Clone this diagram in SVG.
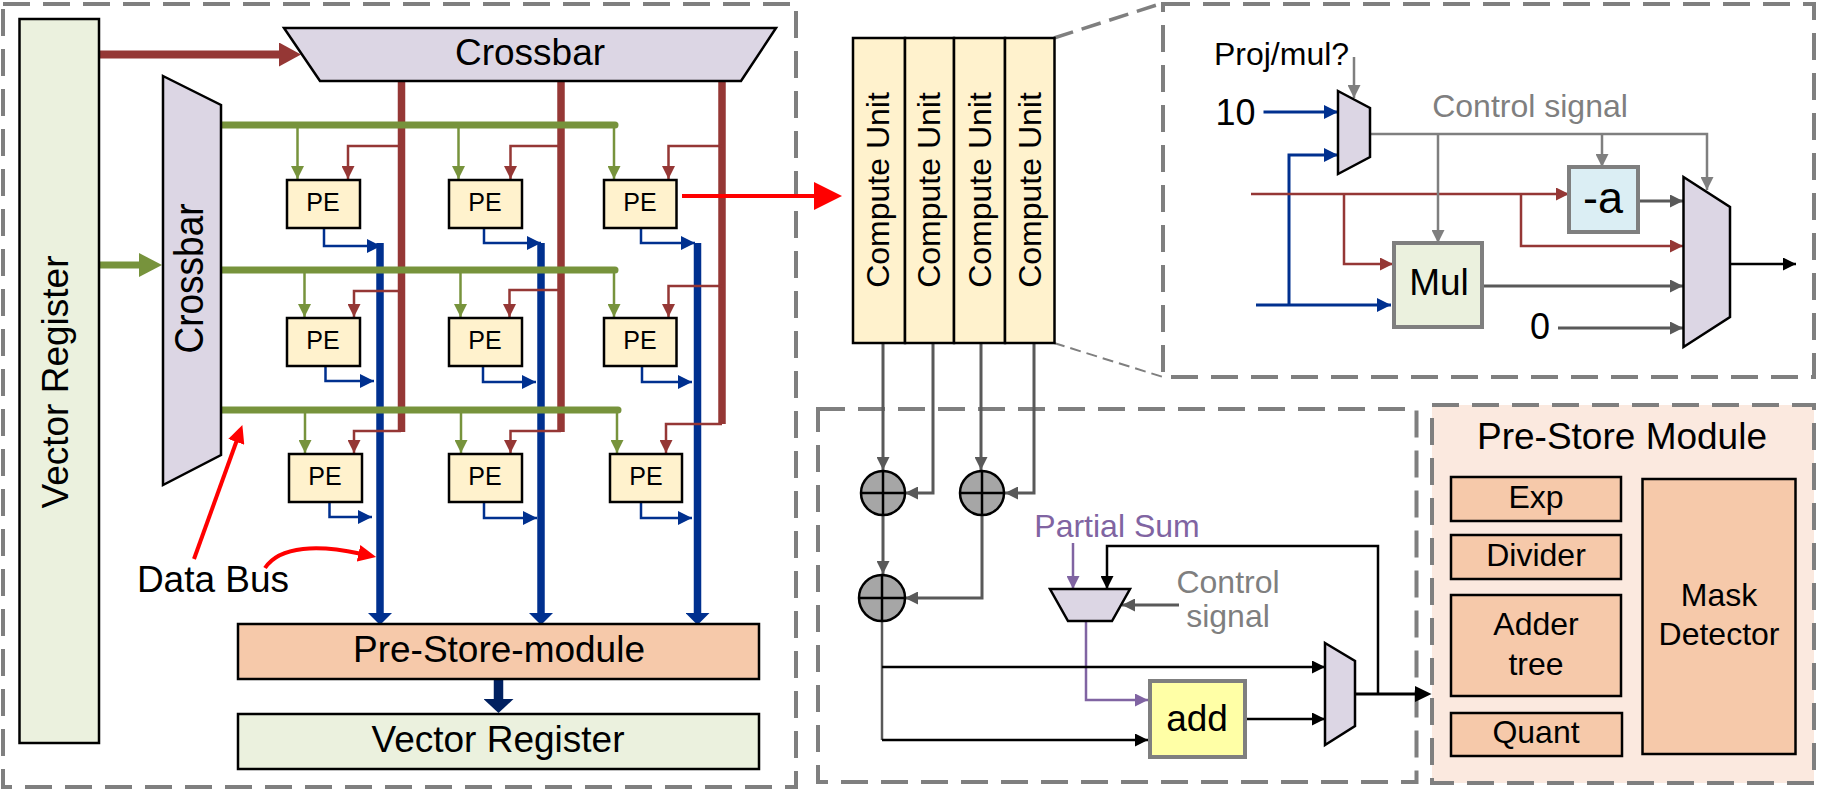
<svg xmlns="http://www.w3.org/2000/svg" width="1821" height="794" viewBox="0 0 1821 794">
<style>
text{font-family:"Liberation Sans",Arial,sans-serif;fill:#000;text-anchor:middle}
.s37{font-size:37px}.s32{font-size:32px}.s25{font-size:25px}
.gt{fill:#7f7f7f}.pt{fill:#8064a2}
.panel{fill:none;stroke:#7f7f7f;stroke-width:4;stroke-dasharray:27 13}
.n{stroke:#000;stroke-width:2.5}
.nb{stroke:#7f7f7f;stroke-width:4}
.mux{fill:#dcd6e4;stroke:#000;stroke-width:2.5;stroke-linejoin:miter}
.pe{fill:#fff2cd}.gr{fill:#ebf1de}.or{fill:#f6c9aa}
.l{fill:none;stroke-linejoin:miter}
.ga{stroke:#77933c;stroke-width:2.5;marker-end:url(#mg)}
.ba{stroke:#953735;stroke-width:2.5;marker-end:url(#mb)}
.bl{stroke:#00308f;stroke-width:2.5;marker-end:url(#mbl)}
.bl3{stroke:#00308f;stroke-width:3;marker-end:url(#mbl)}
.gy{stroke:#7f7f7f;stroke-width:2.5;marker-end:url(#mgy)}
.dk{stroke:#595959;stroke-width:3;marker-end:url(#mdk)}
.ka{stroke:#000;stroke-width:2.5;marker-end:url(#mk)}
.pu{stroke:#8064a2;stroke-width:2.5;marker-end:url(#mpu)}
.bus-g{stroke:#77933c;stroke-width:7;stroke-linecap:round}
.bus-b{stroke:#953735;stroke-width:7.5}
.bus-bl{stroke:#00308f;stroke-width:7.5;marker-end:url(#mbus)}
.re{stroke:#f00;stroke-width:4}
</style>
<defs>
<marker id="mg" markerUnits="userSpaceOnUse" markerWidth="13" markerHeight="13" refX="13" refY="6.5" orient="auto"><path d="M0 0L13 6.5L0 13z" fill="#77933c"/></marker>
<marker id="mb" markerUnits="userSpaceOnUse" markerWidth="13" markerHeight="13" refX="13" refY="6.5" orient="auto"><path d="M0 0L13 6.5L0 13z" fill="#953735"/></marker>
<marker id="mbl" markerUnits="userSpaceOnUse" markerWidth="14" markerHeight="14" refX="14" refY="7" orient="auto"><path d="M0 0L14 7L0 14z" fill="#00308f"/></marker>
<marker id="mgy" markerUnits="userSpaceOnUse" markerWidth="13" markerHeight="13" refX="13" refY="6.5" orient="auto"><path d="M0 0L13 6.5L0 13z" fill="#7f7f7f"/></marker>
<marker id="mdk" markerUnits="userSpaceOnUse" markerWidth="13" markerHeight="13" refX="13" refY="6.5" orient="auto"><path d="M0 0L13 6.5L0 13z" fill="#595959"/></marker>
<marker id="mk" markerUnits="userSpaceOnUse" markerWidth="13" markerHeight="13" refX="13" refY="6.5" orient="auto"><path d="M0 0L13 6.5L0 13z" fill="#000"/></marker>
<marker id="mpu" markerUnits="userSpaceOnUse" markerWidth="13" markerHeight="13" refX="13" refY="6.5" orient="auto"><path d="M0 0L13 6.5L0 13z" fill="#8064a2"/></marker>
<marker id="mbus" markerUnits="userSpaceOnUse" markerWidth="12" markerHeight="24" refX="1" refY="12" orient="auto"><path d="M0 0L12 12L0 24z" fill="#00308f"/></marker>
<marker id="mbig" markerUnits="userSpaceOnUse" markerWidth="22" markerHeight="24" refX="1" refY="12" orient="auto"><path d="M0 0L22 12L0 24z" fill="#953735"/></marker>
<marker id="mgrn" markerUnits="userSpaceOnUse" markerWidth="23" markerHeight="24" refX="1" refY="12" orient="auto"><path d="M0 0L23 12L0 24z" fill="#77933c"/></marker>
<marker id="mnavy" markerUnits="userSpaceOnUse" markerWidth="14" markerHeight="30" refX="1" refY="15" orient="auto"><path d="M0 0L14 15L0 30z" fill="#002060"/></marker>
<marker id="mred" markerUnits="userSpaceOnUse" markerWidth="28" markerHeight="28" refX="1" refY="14" orient="auto"><path d="M0 0L28 14L0 28z" fill="#f00"/></marker>
<marker id="mred2" markerUnits="userSpaceOnUse" markerWidth="18" markerHeight="17" refX="1" refY="8.5" orient="auto"><path d="M0 0L18 8.5L0 17z" fill="#f00"/></marker>
</defs>
<rect width="1821" height="794" fill="#fff"/>

<g id="panel-left"><rect class="panel" x="3" y="4" width="793" height="783"/></g>
<g id="panel-detail"><rect class="panel" x="1163" y="4" width="651" height="373"/></g>
<g id="panel-sum"><rect class="panel" x="818" y="409" width="598.500" height="373"/></g>
<g id="zoom-lines" fill="none" stroke="#7f7f7f">
<path d="M1054 38L1163 3" stroke-width="3.500" stroke-dasharray="20 9"/>
<path d="M1054 343L1163 377" stroke-width="2" stroke-dasharray="11 6"/>
</g>

<g id="connectors">
<g class="l" fill="none">
<path class="bus-bl" d="M380 243V614"/>
<path class="bus-bl" d="M541 243V614"/>
<path class="bus-bl" d="M697.500 243V614"/>
<path class="bl" d="M324 228V246H381"/>
<path class="bl" d="M484 228V243H541"/>
<path class="bl" d="M641 228V243H695"/>
<path class="bl" d="M325.500 366V381H374"/>
<path class="bl" d="M483 366V382H536"/>
<path class="bl" d="M642 366V382H692"/>
<path class="bl" d="M329.500 502V517H372"/>
<path class="bl" d="M484 502V518H537"/>
<path class="bl" d="M641 502V518H692"/>
<path class="bus-b" d="M401.500 81V432"/>
<path class="bus-b" d="M561 81V432"/>
<path class="bus-b" d="M722 81V424"/>
<path class="ba" d="M401 146H348V179"/>
<path class="ba" d="M561 146H510.500V179"/>
<path class="ba" d="M722 146H668.500V179"/>
<path class="ba" d="M401 291H354V317"/>
<path class="ba" d="M561 290H509.500V317"/>
<path class="ba" d="M722 286H668.500V317"/>
<path class="ba" d="M401 431H354V453"/>
<path class="ba" d="M561 431H510.500V453"/>
<path class="ba" d="M722 424H666V453"/>
<path class="ga" d="M297.500 125V179"/>
<path class="ga" d="M458.500 125V179"/>
<path class="ga" d="M614 125V179"/>
<path class="ga" d="M304.500 270V317"/>
<path class="ga" d="M460.500 270V317"/>
<path class="ga" d="M614 270V317"/>
<path class="ga" d="M305 410V453"/>
<path class="ga" d="M461 410V453"/>
<path class="ga" d="M617 410V453"/>
<path class="bus-g" d="M221 125H615"/>
<path class="bus-g" d="M221 270H615"/>
<path class="bus-g" d="M221 410H618"/>
<path stroke="#953735" stroke-width="8" marker-end="url(#mbig)" d="M99 54.500H280"/>
<path stroke="#77933c" stroke-width="7" marker-end="url(#mgrn)" d="M99 265H140"/>
<path stroke="#002060" stroke-width="9.500" marker-end="url(#mnavy)" d="M498.500 679V700"/>
<path class="re" marker-end="url(#mred)" d="M682 196H815"/>
<path class="re" marker-end="url(#mred2)" d="M194 559L236.600 441"/>
<path class="re" marker-end="url(#mred2)" d="M265 568C280 545 320 545 359.500 553.500"/>

<path class="gy" d="M1354 57V98"/>
<path class="bl3" d="M1263.500 112H1338"/>
<path class="bl3" d="M1256 305H1391"/>
<path class="bl3" d="M1289 305V155H1338"/>
<path class="ba" d="M1251 194H1569"/>
<path class="ba" d="M1344 194V264H1393"/>
<path class="ba" d="M1521 194V246H1683"/>
<path class="gy" d="M1370 134H1707V190"/>
<path class="gy" d="M1438 134V243"/>
<path class="gy" d="M1602 134V167"/>
<path class="dk" d="M1638 201H1683"/>
<path class="dk" d="M1482 286H1683"/>
<path class="dk" d="M1558 328H1683"/>
<path class="ka" d="M1730 264H1796"/>

<path class="dk" d="M883 343V470"/>
<path class="dk" d="M933 343V493H905"/>
<path class="dk" d="M981 343V470"/>
<path class="dk" d="M1034 343V493H1005"/>
<path class="dk" d="M883 515V574"/>
<path class="dk" d="M982 515V598H905"/>
<path class="pu" d="M1073 543V589"/>
<path class="ka" d="M1378 693V546H1107V589"/>
<path class="dk" d="M1179 605H1122"/>
<path class="pu" d="M1086 621V700H1148"/>
<path stroke="#595959" stroke-width="2.500" d="M882 621V740"/>
<path class="ka" d="M882 740H1148"/>
<path class="ka" d="M882 667H1325"/>
<path class="ka" d="M1245 719H1325"/>
<path stroke="#000" stroke-width="3" d="M1355 694H1415"/>
<path d="M1415 686L1431.500 694L1415 702z" fill="#000"/>
</g>
</g>

<g id="vector-register-left"><rect class="n gr" x="19.500" y="19" width="79.500" height="724"/><text class="s37" transform="translate(68 382) rotate(-90)">Vector Register</text></g>
<g id="crossbar-top"><path class="mux" d="M284 28H776L741 81H320z"/><text class="s37" x="530" y="65">Crossbar</text></g>
<g id="crossbar-left"><path class="mux" d="M163 76L221 105V455L163 485z"/><text class="s37" transform="translate(203 278.500) rotate(-90) scale(1 1.1)">Crossbar</text></g>

<g id="pe-1-1"><rect class="n pe" x="287" y="180" width="73" height="48"/><text class="s25" x="323" y="211">PE</text></g>
<g id="pe-1-2"><rect class="n pe" x="449" y="180" width="73" height="48"/><text class="s25" x="485" y="211">PE</text></g>
<g id="pe-1-3"><rect class="n pe" x="604" y="180" width="72.500" height="48"/><text class="s25" x="640" y="211">PE</text></g>
<g id="pe-2-1"><rect class="n pe" x="287" y="318" width="73" height="48"/><text class="s25" x="323" y="349">PE</text></g>
<g id="pe-2-2"><rect class="n pe" x="449" y="318" width="73" height="48"/><text class="s25" x="485" y="349">PE</text></g>
<g id="pe-2-3"><rect class="n pe" x="604" y="318" width="72.500" height="48"/><text class="s25" x="640" y="349">PE</text></g>
<g id="pe-3-1"><rect class="n pe" x="289" y="454" width="73" height="48"/><text class="s25" x="325" y="485">PE</text></g>
<g id="pe-3-2"><rect class="n pe" x="449" y="454" width="73" height="48"/><text class="s25" x="485" y="485">PE</text></g>
<g id="pe-3-3"><rect class="n pe" x="610" y="454" width="72" height="48"/><text class="s25" x="646" y="485">PE</text></g>

<g id="pre-store-bar"><rect class="n or" x="238" y="624" width="521" height="55"/><text class="s37" x="499" y="662">Pre-Store-module</text></g>
<g id="vector-register-bottom"><rect class="n gr" x="238" y="714" width="521" height="55"/><text class="s37" x="498" y="752">Vector Register</text></g>
<g id="data-bus-label"><text class="s37" x="213" y="592">Data Bus</text></g>

<g id="compute-units">
<rect class="n pe" x="853" y="38" width="52" height="305"/>
<rect class="n pe" x="905" y="38" width="49" height="305"/>
<rect class="n pe" x="954" y="38" width="51" height="305"/>
<rect class="n pe" x="1005" y="38" width="49.500" height="305"/>
<text class="s32" transform="translate(889 190) rotate(-90)">Compute Unit</text>
<text class="s32" transform="translate(940 190) rotate(-90)">Compute Unit</text>
<text class="s32" transform="translate(991 190) rotate(-90)">Compute Unit</text>
<text class="s32" transform="translate(1041 190) rotate(-90)">Compute Unit</text>
</g>

<g id="detail-labels">
<text class="s32" x="1281.500" y="65">Proj/mul?</text>
<text x="1235.500" y="125" font-size="36">10</text>
<text class="s32 gt" x="1530" y="117">Control signal</text>
<text x="1540" y="339" font-size="36">0</text>
</g>
<g id="mux-select"><path class="mux" d="M1338 91L1370 108V157L1338 174z"/></g>
<g id="neg-a"><rect class="nb" fill="#dbeef4" x="1569" y="167" width="69" height="65"/><text x="1603" y="213" font-size="45">-a</text></g>
<g id="mul"><rect class="nb gr" x="1394" y="243" width="88" height="84"/><text class="s37" x="1439" y="295">Mul</text></g>
<g id="mux-output"><path class="mux" d="M1683.500 177L1730 207V317L1683.500 347z"/></g>

<g id="adder-1"><circle cx="883" cy="493" r="22" fill="#a6a6a6" stroke="#000" stroke-width="2.500"/><path d="M861 493H905M883 471V515" stroke="#000" stroke-width="2.500"/></g>
<g id="adder-2"><circle cx="982" cy="493" r="22" fill="#a6a6a6" stroke="#000" stroke-width="2.500"/><path d="M960 493H1004M982 471V515" stroke="#000" stroke-width="2.500"/></g>
<g id="adder-3"><circle cx="882" cy="598" r="23" fill="#a6a6a6" stroke="#000" stroke-width="2.500"/><path d="M859 598H905M882 575V621" stroke="#000" stroke-width="2.500"/></g>

<g id="partial-sum-labels">
<text class="s32 pt" x="1117" y="537">Partial Sum</text>
<text class="s32 gt" x="1228" y="593">Control</text>
<text class="s32 gt" x="1228" y="627">signal</text>
</g>
<g id="mux-partial"><path class="mux" d="M1050 589H1130L1112 621H1068z"/></g>
<g id="add"><rect class="nb" fill="#ffffa6" x="1150" y="681" width="95" height="76"/><text class="s37" x="1197" y="731">add</text></g>
<g id="mux-add"><path class="mux" d="M1325 643L1355 661V726L1325 745z"/></g>

<g id="pre-store-module">
<rect x="1432" y="405" width="382" height="378" fill="#fbe9df" stroke="#7f7f7f" stroke-width="4" stroke-dasharray="27 13"/>
<text class="s37" x="1622" y="449">Pre-Store Module</text>
<g id="exp"><rect class="n or" x="1451" y="477" width="170" height="44"/><text class="s32" x="1536" y="508">Exp</text></g>
<g id="divider"><rect class="n or" x="1451" y="535" width="170" height="44"/><text class="s32" x="1536" y="566">Divider</text></g>
<g id="adder-tree"><rect class="n or" x="1451" y="595" width="170" height="101"/><text class="s32" x="1536" y="635">Adder</text><text class="s32" x="1536" y="675">tree</text></g>
<g id="quant"><rect class="n or" x="1451" y="713" width="171" height="43"/><text class="s32" x="1536" y="743">Quant</text></g>
<g id="mask-detector"><rect class="n or" x="1642.500" y="479" width="153" height="275"/><text class="s32" x="1719" y="606">Mask</text><text class="s32" x="1719" y="645">Detector</text></g>
</g>
</svg>
